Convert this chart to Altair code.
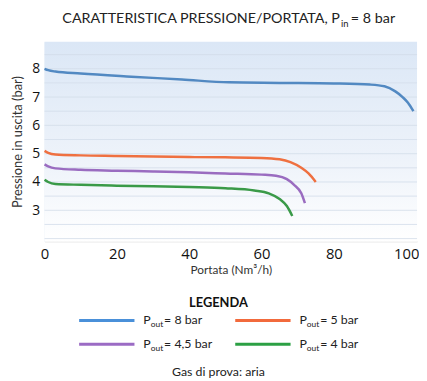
import altair as alt
import pandas as pd

# ---- data ----
series_names = ["8 bar", "5 bar", "4,5 bar", "4 bar"]
series_colors = ["#5289c2", "#ef7040", "#9a6cc0", "#3a9a48"]
legend_colors = ["#4a90d9", "#f26a3c", "#9b6bc4", "#2ca044"]

x_8 = [0, 1, 3, 10, 24, 38, 51, 65, 80, 90, 94, 97, 99, 100.5, 102]
y_8 = [8.0, 7.95, 7.9, 7.83, 7.72, 7.62, 7.52, 7.5, 7.48, 7.44, 7.38, 7.2, 7.0, 6.8, 6.5]

x_5 = [0, 1, 3, 10, 20, 30, 40, 50, 60, 65, 68, 71, 73, 75]
y_5 = [5.1, 5.03, 4.97, 4.94, 4.92, 4.9, 4.88, 4.87, 4.85, 4.8, 4.7, 4.5, 4.3, 4.0]

x_45 = [0, 1, 3, 10, 20, 30, 40, 50, 60, 64, 67, 69, 71, 72]
y_45 = [4.62, 4.55, 4.48, 4.43, 4.4, 4.37, 4.34, 4.3, 4.26, 4.22, 4.1, 3.9, 3.6, 3.25]

x_4 = [0, 1, 3, 10, 20, 30, 40, 50, 58, 62, 65, 67, 68.5]
y_4 = [4.08, 4.0, 3.93, 3.9, 3.87, 3.85, 3.82, 3.78, 3.7, 3.6, 3.4, 3.15, 2.8]

x_ticks = [0, 20, 40, 60, 80, 100]
y_ticks = [3, 4, 5, 6, 7, 8]
grid_vals = [2.0, 2.5, 3.0, 3.5, 4.0, 4.5, 5.0, 5.5, 6.0, 6.5, 7.0, 7.5, 8.0, 8.5]

rows = []
for name, xs, ys in zip(series_names, [x_8, x_5, x_45, x_4], [y_8, y_5, y_45, y_4]):
    for i, (a, b) in enumerate(zip(xs, ys)):
        rows.append({"serie": name, "portata": a, "pressione": b, "ord": i})
df = pd.DataFrame(rows)

W, H = 377, 202
FONT = "Lato"
NUMFONT = "Open Sans"

xscale = alt.Scale(domain=[0, 103], nice=False, zero=False)
yscale = alt.Scale(domain=[1.9, 8.95], nice=False, zero=False)

yaxis = alt.Axis(values=y_ticks, title="Pressione in uscita (bar)", grid=False,
                 ticks=False, domainColor="#e4ecf5", labelFontSize=14,
                 labelFont=NUMFONT, labelColor="#111", labelPadding=5,
                 titleFont=FONT, titleFontSize=13, titleFontWeight="normal",
                 titleColor="#333", titlePadding=7)
xaxis = alt.Axis(values=x_ticks, title="Portata (Nm³/h)", grid=False, labelFlush=False,
                 ticks=False, domainColor="#e2e2e2", labelFontSize=15,
                 labelFont=NUMFONT, labelColor="#111", labelPadding=5,
                 titleFont=FONT, titleFontSize=12, titleFontWeight="normal",
                 titleColor="#333", titlePadding=3)

bg = alt.Chart(pd.DataFrame({"a": [0]})).mark_rect(
    color=alt.LinearGradient(
        gradient="linear", x1=0, x2=0, y1=0, y2=1,
        stops=[alt.GradientStop(color="#dbe7f6", offset=0),
               alt.GradientStop(color="#eef3fa", offset=0.6),
               alt.GradientStop(color="#ffffff", offset=1)]
    )
).encode(x=alt.value(0), x2=alt.value(W), y=alt.value(0), y2=alt.value(H))

grid = alt.Chart(pd.DataFrame({"g": grid_vals})).mark_rule(
    color="#d3dde9", strokeWidth=1, opacity=0.8
).encode(y=alt.Y("g:Q", scale=yscale, axis=yaxis))

lines = alt.Chart(df).mark_line(strokeWidth=2.5, interpolate="monotone").encode(
    x=alt.X("portata:Q", scale=xscale, axis=xaxis),
    y=alt.Y("pressione:Q", scale=yscale, axis=yaxis),
    color=alt.Color("serie:N", scale=alt.Scale(domain=series_names, range=series_colors),
                    legend=None),
    order="ord:Q",
)

# ---- title with subscript ----
title_df = pd.DataFrame([
    {"t": "CARATTERISTICA PRESSIONE/PORTATA, P", "px": 299, "py": -23, "fs": 14.5, "al": "right"},
    {"t": "in", "px": 300, "py": -18.5, "fs": 9.5, "al": "left"},
    {"t": "= 8 bar", "px": 310, "py": -23, "fs": 14.5, "al": "left"},
])
title_layers = []
for al in ["right", "left"]:
    sub = title_df[title_df.al == al]
    title_layers.append(
        alt.Chart(sub).mark_text(font=FONT, color="#222", align=al, baseline="middle").encode(
            x=alt.X("px:Q", scale=None), y=alt.Y("py:Q", scale=None),
            text="t:N", size=alt.Size("fs:Q", scale=None))
    )

# ---- custom legend ----
leg_rows = []
for i, (name, col) in enumerate(zip(series_names, legend_colors)):
    c, r = i % 2, i // 2
    x0 = 35 + c * 158
    yy = 282 + r * 24
    leg_rows.append({"name": name, "col": col, "lx": x0, "lx2": x0 + 56, "ly": yy,
                     "px": x0 + 65, "sx": x0 + 72.5, "ex": x0 + 86})
leg = pd.DataFrame(leg_rows)

leg_lines = alt.Chart(leg).mark_rule(strokeWidth=3).encode(
    x=alt.X("lx:Q", scale=None), x2="lx2:Q", y=alt.Y("ly:Q", scale=None),
    color=alt.Color("col:N", scale=None))
leg_p = alt.Chart(leg).mark_text(text="P", font=FONT, fontSize=12.5, align="left",
                                 baseline="middle", color="#222").encode(
    x=alt.X("px:Q", scale=None), y=alt.Y("ly:Q", scale=None))
leg_sub = alt.Chart(leg).mark_text(text="out", font=FONT, fontSize=8.5, align="left",
                                   baseline="middle", color="#222", dy=3.5).encode(
    x=alt.X("sx:Q", scale=None), y=alt.Y("ly:Q", scale=None))
leg_lab = alt.Chart(leg).transform_calculate(lab="'= ' + datum.name").mark_text(
    font=FONT, fontSize=12.5, align="left", baseline="middle", color="#222").encode(
    x=alt.X("ex:Q", scale=None), y=alt.Y("ly:Q", scale=None), text="lab:N")

leg_title = alt.Chart(pd.DataFrame({"t": ["LEGENDA"]})).mark_text(
    font=FONT, fontSize=13, fontWeight="bold", color="#111", align="center", baseline="middle"
).encode(x=alt.value(176), y=alt.value(264), text="t:N")
gas = alt.Chart(pd.DataFrame({"t": ["Gas di prova: aria"]})).mark_text(
    font=FONT, fontSize=12.5, color="#222", align="center", baseline="middle"
).encode(x=alt.value(176), y=alt.value(334), text="t:N")

chart = alt.layer(
    bg, grid, lines, *title_layers, leg_lines, leg_p, leg_sub, leg_lab, leg_title, gas
).properties(
    width=W, height=H, background="white",
    padding={"top": 1, "left": 3, "right": 0, "bottom": 0},
).configure_view(stroke=None)

chart.save("out.html", embed_options={"renderer": "svg", "actions": False})
